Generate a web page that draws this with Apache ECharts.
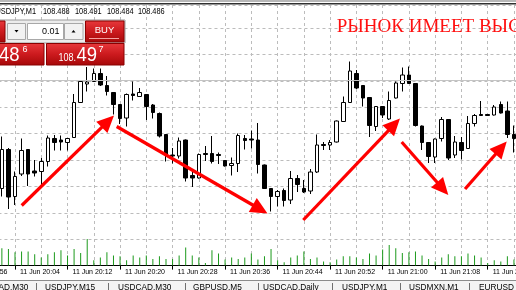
<!DOCTYPE html>
<html><head><meta charset="utf-8">
<script src="https://cdn.jsdelivr.net/npm/echarts@6/dist/echarts.min.js"></script>
<style>html,body{margin:0;padding:0;background:#fff;overflow:hidden}#c{width:516px;height:290px}</style>
</head><body><div id="c"></div>
<script>
// ---- data (USDJPY, M1, 11 Jun) ----
const times = ['20:02','20:03','20:04','20:05','20:06','20:07','20:08','20:09','20:10','20:11','20:12','20:13','20:14','20:15','20:16','20:17','20:18','20:19','20:20','20:21','20:22','20:23','20:24','20:25','20:26','20:27','20:28','20:29','20:30','20:31','20:32','20:33','20:34','20:35','20:36','20:37','20:38','20:39','20:40','20:41','20:42','20:43','20:44','20:45','20:46','20:47','20:48','20:49','20:50','20:51','20:52','20:53','20:54','20:55','20:56','20:57','20:58','20:59','21:00','21:01','21:02','21:03','21:04','21:05','21:06','21:07','21:08','21:09','21:10','21:11','21:12','21:13','21:14','21:15','21:16','21:17','21:18','21:19','21:20'];
const open = [108.4683,108.4761,108.4667,108.4712,108.4761,108.4718,108.4717,108.4737,108.4783,108.4780,108.4775,108.4785,108.4855,108.4892,108.4897,108.4913,108.4889,108.4875,108.4851,108.4824,108.4872,108.4867,108.4871,108.4850,108.4833,108.4791,108.4750,108.4748,108.4780,108.4709,108.4704,108.4753,108.4753,108.4751,108.4739,108.4729,108.4733,108.4783,108.4782,108.4780,108.4730,108.4683,108.4667,108.4679,108.4660,108.4703,108.4683,108.4678,108.4716,108.4771,108.4770,108.4776,108.4817,108.4855,108.4913,108.4889,108.4865,108.4807,108.4847,108.4822,108.4864,108.4893,108.4910,108.4893,108.4808,108.4775,108.4746,108.4783,108.4821,108.4750,108.4775,108.4763,108.4813,108.4831,108.4831,108.4830,108.4851,108.4838,108.4791];
const close = [108.4761,108.4666,108.4707,108.4759,108.4712,108.4714,108.4737,108.4784,108.4775,108.4776,108.4783,108.4855,108.4897,108.4896,108.4913,108.4890,108.4877,108.4851,108.4823,108.4871,108.4869,108.4875,108.4847,108.4835,108.4788,108.4751,108.4748,108.4778,108.4704,108.4704,108.4751,108.4751,108.4737,108.4749,108.4728,108.4733,108.4789,108.4779,108.4780,108.4731,108.4683,108.4667,108.4677,108.4659,108.4703,108.4691,108.4676,108.4716,108.4770,108.4769,108.4775,108.4818,108.4855,108.4918,108.4884,108.4864,108.4809,108.4847,108.4830,108.4859,108.4894,108.4910,108.4893,108.4809,108.4775,108.4747,108.4782,108.4821,108.4744,108.4776,108.4759,108.4813,108.4829,108.4829,108.4829,108.4846,108.4834,108.4791,108.4783];
const low = [108.4667,108.4642,108.4650,108.4708,108.4688,108.4707,108.4690,108.4727,108.4759,108.4759,108.4759,108.4784,108.4854,108.4877,108.4896,108.4888,108.4869,108.4831,108.4812,108.4807,108.4859,108.4866,108.4820,108.4823,108.4785,108.4737,108.4733,108.4743,108.4697,108.4686,108.4703,108.4738,108.4733,108.4732,108.4727,108.4709,108.4716,108.4761,108.4763,108.4713,108.4682,108.4637,108.4647,108.4647,108.4652,108.4676,108.4674,108.4672,108.4714,108.4760,108.4760,108.4775,108.4816,108.4854,108.4882,108.4847,108.4786,108.4798,108.4824,108.4820,108.4863,108.4877,108.4892,108.4807,108.4760,108.4734,108.4734,108.4777,108.4740,108.4744,108.4741,108.4762,108.4807,108.4828,108.4828,108.4829,108.4833,108.4784,108.4755];
const high = [108.4787,108.4764,108.4717,108.4783,108.4762,108.4740,108.4744,108.4789,108.4790,108.4789,108.4784,108.4872,108.4899,108.4926,108.4923,108.4923,108.4908,108.4876,108.4852,108.4873,108.4897,108.4884,108.4872,108.4852,108.4835,108.4792,108.4764,108.4785,108.4781,108.4722,108.4753,108.4768,108.4788,108.4755,108.4740,108.4745,108.4793,108.4790,108.4799,108.4814,108.4731,108.4684,108.4680,108.4683,108.4718,108.4710,108.4700,108.4722,108.4791,108.4776,108.4780,108.4819,108.4867,108.4937,108.4920,108.4890,108.4866,108.4848,108.4848,108.4877,108.4897,108.4925,108.4927,108.4894,108.4809,108.4776,108.4783,108.4826,108.4822,108.4788,108.4786,108.4828,108.4832,108.4858,108.4832,108.4850,108.4857,108.4857,108.4809];
const volume = [26,25,20,21,21,17,12,17,20,23,15,25,19,40,8,12,20,15,14,8,15,12,15,10,14,10,10,15,27,15,12,4,23,18,9,12,10,12,18,9,14,25,8,5,12,15,21,10,12,6,5,9,14,14,12,10,18,15,24,31,26,19,20,21,15,10,6,12,17,14,14,18,15,12,4,8,6,14,9];
const dayLabel = '11 Jun';
const headerSymbol = 'USDJPY,M1';
const headerOHLC = ['108.488','108.491','108.484','108.486'];
const bidPrice = 108.486;
const lotText = '0.01';
const sellQuote = ['48','6'];
const buyQuote = ['108.','49','7'];
const noteText = 'РЫНОК ИМЕЕТ ВЫС';
const tabs = ['USDCAD,M30','USDJPY,M15','USDCAD,M30','GBPUSD,M5','USDCAD,Daily','USDJPY,M1','USDMXN,M1','EURUSD'];
// arrows: [minutes after 20:04, price]
const arrowFrom = [[1.02,108.4649],[15.49,108.4807],[43.91,108.4620],[58.90,108.4776],[68.55,108.4682]];
const arrowTo   = [[15.08,108.4829],[38.46,108.4633],[58.64,108.4823],[66.00,108.4670],[74.90,108.4777]];

// ---- build ----
const BASE = 20*60+4;
function idx(t){const [h,m]=t.split(':').map(Number);return h*60+m-BASE;}
function fmt(v){const t=BASE+Math.round(v);const h=Math.floor(t/60),m=t%60;return dayLabel+' '+h+':'+String(m).padStart(2,'0');}
const candleData = times.map((t,i)=>[idx(t),open[i],close[i],low[i],high[i]]);
const volData = times.map((t,i)=>[idx(t),volume[i]]);

const chart = echarts.init(document.getElementById('c'),null,{renderer:'canvas',width:516,height:290});
const FONT='Liberation Sans';
chart.setOption({
  animation:false,
  backgroundColor:'#ffffff',
  grid:{left:-37.52,right:-50.46,top:5,bottom:24.4,containLabel:false,outerBoundsMode:'none'},
  xAxis:[
    {type:'value',position:'top',min:-8,max:84,interval:4,
     axisLine:{show:false},axisTick:{show:false},axisLabel:{show:false},
     splitLine:{show:true,lineStyle:{color:'#bcbcbc',type:[3,3],width:1}}},
    {type:'value',position:'bottom',min:-8,max:84,interval:8,
     axisLine:{show:true,onZero:false,lineStyle:{color:'#000',width:1}},
     axisTick:{show:true,length:4,lineStyle:{color:'#000'}},
     axisLabel:{show:true,align:'left',margin:3,padding:[0,0,0,5],color:'#000',fontSize:7,fontFamily:FONT,formatter:fmt,showMinLabel:true,showMaxLabel:true},
     splitLine:{show:false}}
  ],
  yAxis:[
    {type:'value',min:108.45288,max:108.505,interval:0.00528,
     axisLine:{show:false},axisTick:{show:false},axisLabel:{show:false},
     splitLine:{show:true,lineStyle:{color:'#bcbcbc',type:[3,3],width:1}}},
    {type:'value',min:0,max:391,show:false,splitLine:{show:false}}
  ],
  series:[
    {type:'candlestick',xAxisIndex:0,yAxisIndex:0,data:candleData,encode:{x:0,y:[1,2,3,4]},
     barWidth:4,clip:false,
     itemStyle:{color:'#ffffff',color0:'#000000',borderColor:'#000000',borderColor0:'#000000',borderWidth:1},
     markLine:{silent:true,symbol:'none',label:{show:false},animation:false,
       lineStyle:{color:'#c4c4c4',type:'solid',width:1},data:[{yAxis:bidPrice}]}},
    {type:'bar',xAxisIndex:0,yAxisIndex:1,data:volData,barWidth:1,itemStyle:{color:'#1c9a1c'},z:1}
  ]
});

// ---- overlays ----
const redGrad = ()=>new echarts.graphic.LinearGradient(0,0,0,1,[{offset:0,color:'#e8393c'},{offset:0.5,color:'#cc1a1e'},{offset:1,color:'#a50808'}]);
const els = [];
for(let i=0;i<arrowFrom.length;i++){
  const a = chart.convertToPixel({seriesIndex:0},arrowFrom[i]);
  const b = chart.convertToPixel({seriesIndex:0},arrowTo[i]);
  const dx=b[0]-a[0],dy=b[1]-a[1],L=Math.hypot(dx,dy),ux=dx/L,uy=dy/L,nx=-uy,ny=ux;
  const hl=17,hw=8;const bx=b[0]-ux*hl,by=b[1]-uy*hl;
  els.push({type:'line',z:50,shape:{x1:a[0],y1:a[1],x2:bx+ux*2,y2:by+uy*2},style:{stroke:'#ff0000',lineWidth:3.2}});
  els.push({type:'polygon',z:50,shape:{points:[[b[0],b[1]],[bx+nx*hw,by+ny*hw],[bx-nx*hw,by-ny*hw]]},style:{fill:'#ff0000'}});
}
els.push({type:'rect',z:60,shape:{x:0,y:0,width:516,height:2},style:{fill:'#b8b8b8'}});
els.push({type:'rect',z:60,shape:{x:0,y:3,width:516,height:1.5},style:{fill:'#303030'}});
function txt(x,y,text,size,opt){opt=opt||{};return {type:'text',z:opt.z||70,x:x,y:y,scaleX:opt.sx||1,scaleY:opt.sy||1,
  style:{text:text,fontSize:size,fontFamily:opt.ff||FONT,fontWeight:opt.fw||'normal',fill:opt.fill||'#000',align:opt.align||'left',verticalAlign:opt.va||'middle'}};}
els.push(txt(36,11.7,headerSymbol,9,{align:'right',sx:0.82}));
const hx=[43,75,107,138];
headerOHLC.forEach((s,i)=>els.push(txt(hx[i],11.7,s,9,{sx:0.82})));
els.push(txt(336.7,27.5,noteText,19,{ff:'Liberation Serif',fill:'#ff1010'}));
els.push({type:'rect',z:80,shape:{x:-2,y:20,width:127,height:23},style:{fill:'#ececec',stroke:'#9a9a9a',lineWidth:1}});
els.push({type:'rect',z:81,shape:{x:-40,y:21,width:45,height:21},style:{fill:redGrad(),stroke:'#8a0000',lineWidth:1}});
els.push({type:'rect',z:81,shape:{x:7.5,y:23.5,width:18,height:16},style:{fill:'#f2f2f2',stroke:'#a8a8a8',lineWidth:1}});
els.push({type:'polygon',z:82,shape:{points:[[14.5,30],[18.5,30],[16.5,32.5]]},style:{fill:'#000'}});
els.push({type:'rect',z:81,shape:{x:27.5,y:23.5,width:36,height:16},style:{fill:'#ffffff',stroke:'#a8a8a8',lineWidth:1}});
els.push(txt(59.5,31.5,lotText,9,{align:'right',z:82}));
els.push({type:'rect',z:81,shape:{x:64.5,y:23.5,width:18.5,height:16},style:{fill:'#f2f2f2',stroke:'#a8a8a8',lineWidth:1}});
els.push({type:'polygon',z:82,shape:{points:[[71.5,32.5],[75.5,32.5],[73.5,30]]},style:{fill:'#000'}});
els.push({type:'rect',z:81,shape:{x:85.5,y:21,width:38.5,height:21},style:{fill:redGrad(),stroke:'#8a0000',lineWidth:1}});
els.push(txt(104.5,30.5,'BUY',9.5,{align:'center',fill:'#ffffff',z:82}));
els.push({type:'line',z:82,shape:{x1:89,y1:38.5,x2:119,y2:38.5},style:{stroke:'#f4a0a0',lineWidth:1}});
els.push({type:'rect',z:81,shape:{x:-40,y:43.5,width:84,height:21.5},style:{fill:redGrad(),stroke:'#8a0000',lineWidth:1}});
els.push({type:'rect',z:81,shape:{x:46.5,y:43.5,width:77.5,height:21.5},style:{fill:redGrad(),stroke:'#8a0000',lineWidth:1}});
els.push(txt(-1,55,sellQuote[0],21,{fill:'#fff',z:83,sx:0.88}));
els.push(txt(22.5,50,sellQuote[1],9,{fill:'#fff',z:83}));
els.push(txt(58.5,58.5,buyQuote[0],10,{fill:'#fff',z:83,sx:0.9}));
els.push(txt(76.5,55,buyQuote[1],21,{fill:'#fff',z:83,sx:0.88}));
els.push(txt(98.5,50,buyQuote[2],9,{fill:'#fff',z:83}));
els.push({type:'rect',z:60,shape:{x:0,y:280.5,width:516,height:10},style:{fill:'#f4f4f4'}});
els.push({type:'rect',z:61,shape:{x:0,y:280,width:516,height:1},style:{fill:'#8c8c8c'}});
const tabX=[-25,45,118,193,263,342,409,479];
const sepX=[36,108,185,258,332,400,469];
tabs.forEach((s,i)=>els.push(txt(tabX[i],283.5,s,9,{va:'top',z:62,sx:0.92})));
sepX.forEach(x=>els.push({type:'rect',z:62,shape:{x:x,y:283,width:1,height:8},style:{fill:'#707070'}}));
chart.setOption({graphic:{elements:els}});
</script></body></html>
